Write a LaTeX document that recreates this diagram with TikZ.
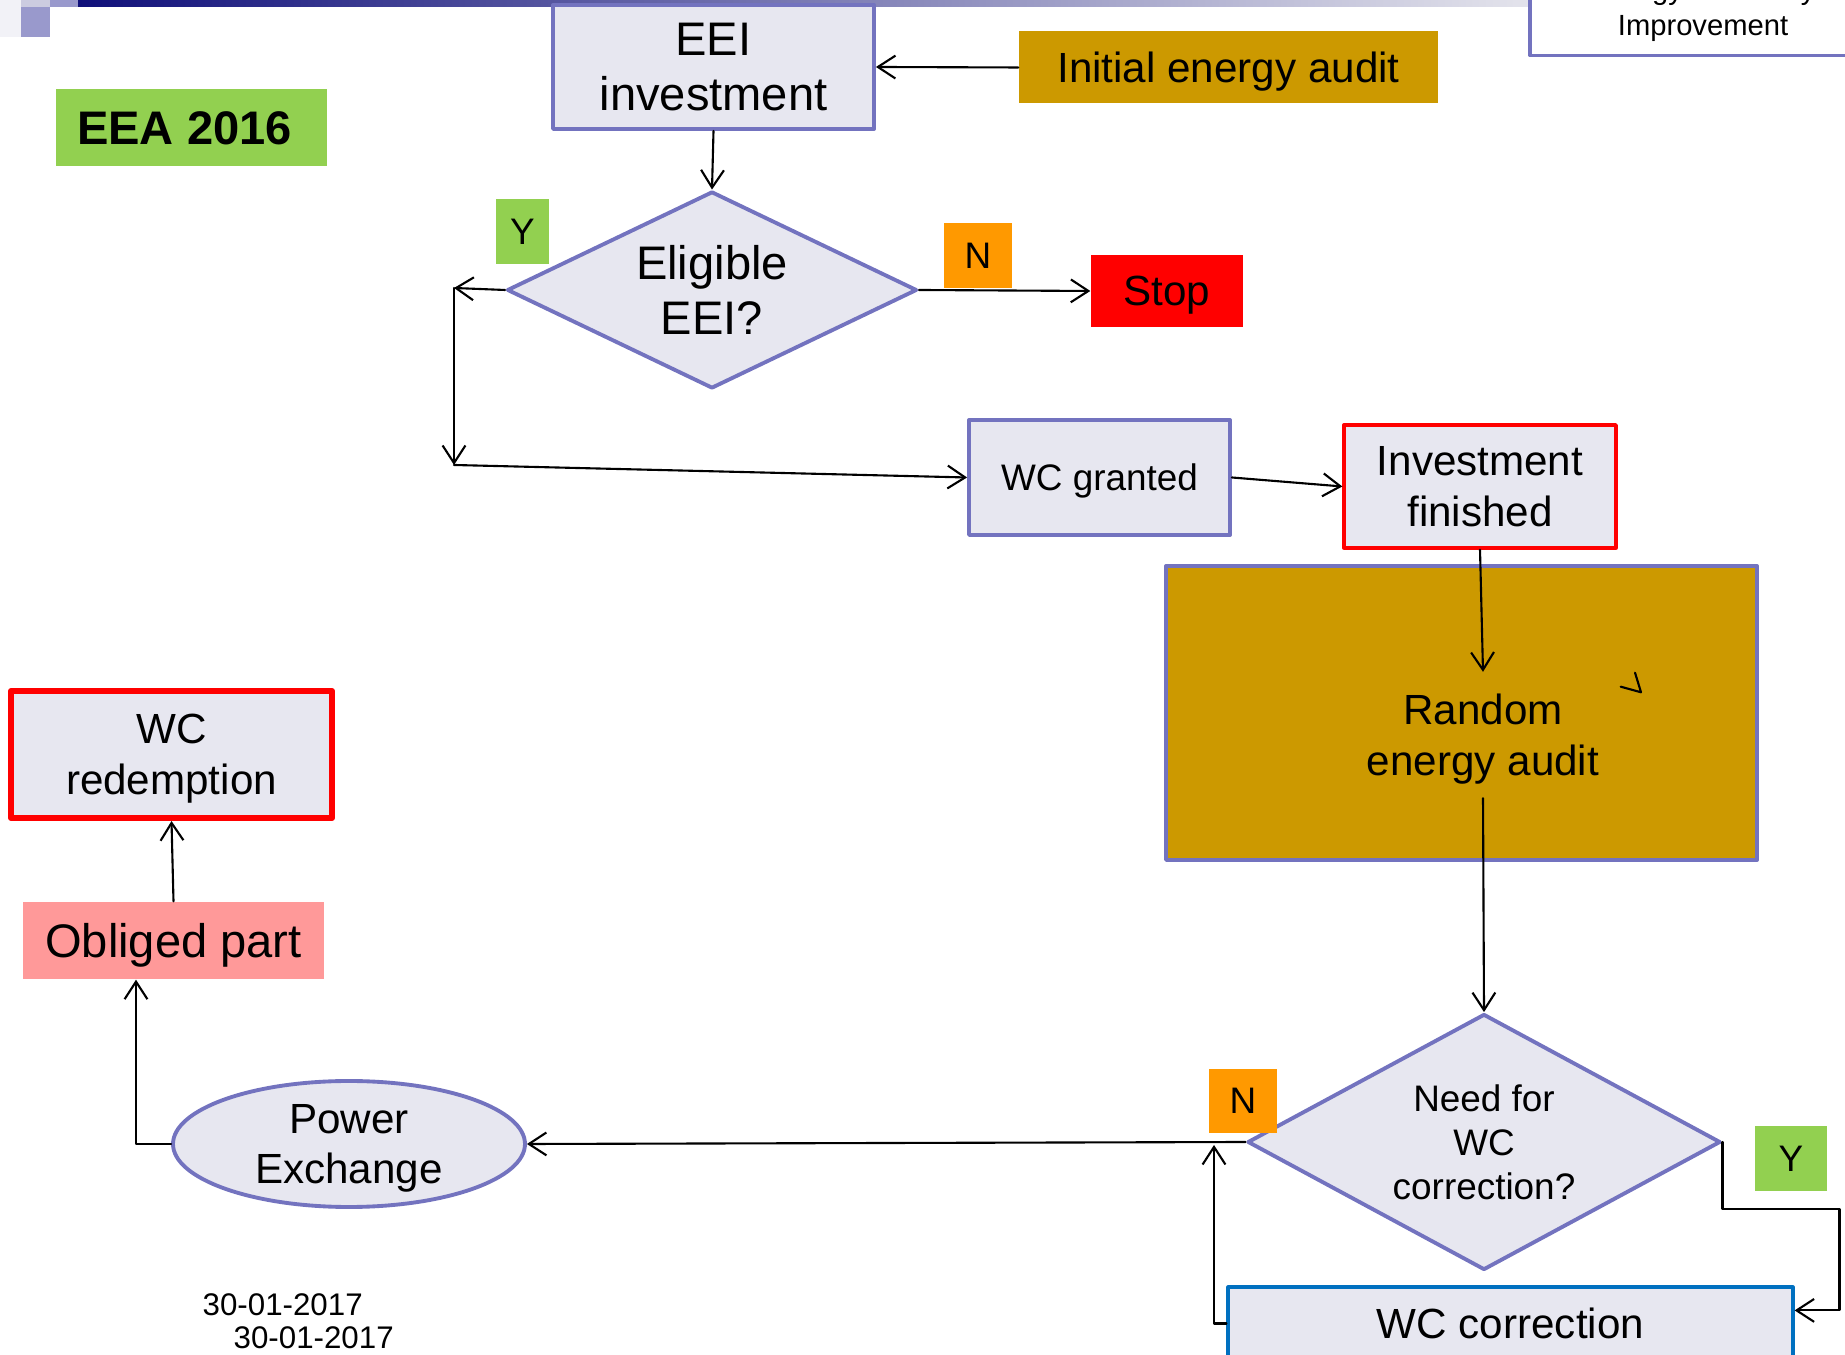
\documentclass[tikz,border=0pt]{standalone}
\usepackage{fontspec}
\setmainfont{Liberation Sans}
\usetikzlibrary{shapes.geometric,arrows.meta}

\definecolor{boxfill}{RGB}{231,231,240}
\definecolor{boxline}{RGB}{115,115,191}
\definecolor{auditgold}{RGB}{204,153,0}
\definecolor{yesgreen}{RGB}{146,208,80}
\definecolor{noorange}{RGB}{255,153,0}
\definecolor{oblpink}{RGB}{255,153,153}
\definecolor{wcblue}{RGB}{0,112,192}
\definecolor{barnavy}{RGB}{16,16,122}
\definecolor{barend}{RGB}{228,228,236}
\definecolor{barlight}{RGB}{204,204,224}
\definecolor{barmid}{RGB}{153,153,204}
\definecolor{barpale}{RGB}{242,242,247}

\begin{document}
\begin{tikzpicture}[line cap=round,line join=round,x=1.0cm,y=1.0cm,
	flow/.style={-{Straight Barb[length=5pt,width=6.5pt]},line width=0.6pt},
	lav/.style={draw=boxline,fill=boxfill,line width=1.1pt,inner sep=0pt,align=center},
	plain/.style={inner sep=0pt,align=center},
	nodepth/.style={text depth=0pt},
	big/.style={font=\fontsize{13.4}{15.8}\selectfont},
	mid/.style={font=\fontsize{12}{14.4}\selectfont},
	small/.style={font=\fontsize{10.5}{12.5}\selectfont}]
	\useasboundingbox (0,0) rectangle (18.45,13.54);
	\clip (0,0) rectangle (18.45,13.54);
	% title bar
	\fill[barpale] (0,13.54) rectangle (0.21,13.17);
	\fill[barlight] (0.21,13.54) rectangle (0.50,13.47);
	\fill[barmid] (0.21,13.47) rectangle (0.50,13.17);
	\fill[barmid] (0.50,13.54) rectangle (0.78,13.47);
	\shade[left color=barnavy,right color=barend] (0.78,13.54) rectangle (15.3,13.47);
	\node[draw=boxline,fill=white,line width=1.1pt,align=center,inner sep=0pt,font=\fontsize{8.3}{10}\selectfont,minimum width=3.46cm,minimum height=0.91cm] (eeimp) at (17.03,13.44) {Energy Efficiency\\Improvement};
	% upper part
	\node[plain,nodepth,font=\fontsize{13.4}{15.8}\selectfont\bfseries,fill=yesgreen,minimum width=2.71cm,minimum height=0.77cm] (eea) at (1.915,12.26) {EEA 2016\hspace*{0.14cm}};
	\node[lav,big,minimum width=3.21cm,minimum height=1.24cm] (eei) at (7.135,12.87) {EEI\\investment};
	\node[plain,mid,nodepth,fill=auditgold,minimum width=4.19cm,minimum height=0.72cm] (initaudit) at (12.285,12.865) {Initial energy audit};
	\node[lav,big,diamond,aspect=2.08,minimum width=4.1cm,minimum height=1.97cm] (elig) at (7.12,10.64) {Eligible\\EEI?};
	\node[plain,small,fill=yesgreen,minimum width=0.53cm,minimum height=0.65cm] (ytop) at (5.225,11.225) {Y};
	\node[plain,small,fill=noorange,minimum width=0.68cm,minimum height=0.65cm] (ntop) at (9.78,10.985) {N};
	\node[plain,mid,nodepth,fill=red,minimum width=1.52cm,minimum height=0.72cm] (stop) at (11.67,10.63) {Stop};
	\node[lav,small,nodepth,minimum width=2.61cm,minimum height=1.15cm] (wcg) at (10.995,8.765) {WC granted};
	\node[lav,mid,draw=red,line width=0.95pt,minimum width=2.72cm,minimum height=1.23cm] (inv) at (14.80,8.675) {Investment\\finished};
	\node[lav,fill=auditgold,minimum width=5.91cm,minimum height=2.94cm] (audbox) at (14.615,6.41) {};
	\node[plain,mid,nodepth,minimum height=1.25cm] (rand) at (14.83,6.19) {Random\\energy audit};
	\coordinate (yturn) at (4.54,10.66);
	\coordinate (ycorner) at (4.54,8.89);
	% lower part
	\node[lav,small,diamond,aspect=1.85,minimum width=4.73cm,minimum height=2.56cm] (need) at (14.84,2.12) {Need for\\WC\\correction?};
	\node[plain,small,fill=noorange,minimum width=0.68cm,minimum height=0.64cm] (nbot) at (12.43,2.53) {N};
	\node[plain,small,fill=yesgreen,minimum width=0.72cm,minimum height=0.65cm] (ybot) at (17.91,1.955) {Y};
	\node[lav,mid,draw=wcblue,line width=0.9pt,minimum width=5.65cm,minimum height=0.73cm] (wcc) at (15.105,0.305) {WC correction};
	\node[lav,mid,nodepth,ellipse,minimum width=3.52cm,minimum height=1.26cm] (pe) at (3.49,2.10) {Power\\Exchange};
	\node[plain,big,nodepth,fill=oblpink,minimum width=3.01cm,minimum height=0.77cm] (obl) at (1.735,4.135) {Obliged part};
	\node[lav,mid,nodepth,draw=red,line width=1.7pt,minimum width=3.21cm,minimum height=1.27cm] (redeem) at (1.715,5.995) {WC\\redemption};
	\coordinate (nmerge) at (12.14,2.09);
	\coordinate (ybend) at (18.395,1.45);
	\coordinate (peleft) at (1.36,2.10);
	\node[plain,font=\fontsize{8.9}{10}\selectfont,anchor=base west] (date1) at (2.02,0.39) {30-01-2017};
	\node[plain,font=\fontsize{8.9}{10}\selectfont,anchor=base west] (date2) at (2.33,0.06) {30-01-2017};
	% connectors
	\draw[flow] (initaudit.west) -- (eei.east);
	\draw[flow] (eei.south) -- (elig.north);
	\draw[flow] (elig.east) -- (stop.west);
	\draw[flow] (elig.west) -- (yturn);
	\draw[flow] (yturn) -- (ycorner);
	\draw[flow] (ycorner) -- (wcg.west);
	\draw[flow] (wcg.east) -- (inv.west);
	\draw[flow] (inv.south) -- (rand.north);
	\draw[line width=0.6pt] (16.207,6.673) -- (16.41,6.617) -- (16.35,6.813);
	\draw[flow] (rand.south) -- (need.north);
	\draw[flow] (need.west) -- (pe.east);
	\draw[flow] (wcc.west) -| (nmerge);
	\draw[flow] (need.east) |- (ybend) |- ([yshift=-0.25cm]wcc.north east);
	\draw[flow] (pe.west) -- (peleft) -- (peleft |- obl.south);
	\draw[flow] (obl.north) -- (redeem.south);
\end{tikzpicture}
\end{document}
